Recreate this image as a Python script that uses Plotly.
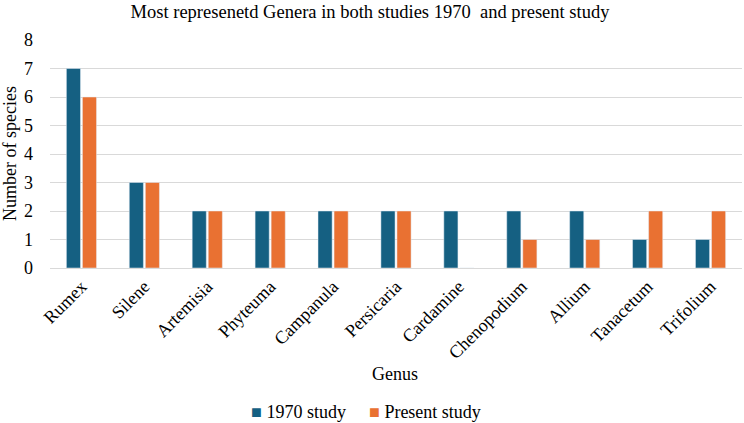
import plotly.graph_objects as go

genera = ["Rumex", "Silene", "Artemisia", "Phyteuma", "Campanula", "Persicaria",
          "Cardamine", "Chenopodium", "Allium", "Tanacetum", "Trifolium"]
study_1970 = [7, 3, 2, 2, 2, 2, 2, 2, 2, 1, 1]
present_study = [6, 3, 2, 2, 2, 2, 0, 1, 1, 2, 2]
y_ticks = [0, 1, 2, 3, 4, 5, 6, 7, 8]
series_names = ["1970 study", "Present study"]
series_colors = ["#156082", "#E97132"]

FONT = "Liberation Serif"
W, H = 744, 423
L, R, T, B = 50, 2, 40, 155
ph = H - T - B
pw = W - L - R

fig = go.Figure()
fig.add_trace(go.Bar(x=genera, y=study_1970, name=series_names[0], marker_color=series_colors[0]))
fig.add_trace(go.Bar(x=genera, y=present_study, name=series_names[1], marker_color=series_colors[1]))

fig.update_layout(
    width=W, height=H,
    margin=dict(l=L, r=R, t=T, b=B),
    paper_bgcolor="white", plot_bgcolor="white",
    font=dict(family=FONT, color="#000000", size=18),
    barmode="group", bargap=0.49, bargroupgap=0.12,
    title=dict(text="Most represenetd Genera in both studies 1970  and present study",
               x=(370 - L) / pw, xref="paper", xanchor="center",
               y=1 - 12 / H, yanchor="middle", font=dict(size=18.5, family=FONT)),
    xaxis=dict(tickangle=-45, showline=True, linecolor="#d9d9d9", linewidth=1,
               ticks="", tickfont=dict(size=18, family=FONT)),
    yaxis=dict(range=[0, 8], tickvals=y_ticks, showgrid=True, gridcolor="#d9d9d9",
               zeroline=False, ticks="", tickfont=dict(size=18, family=FONT),
               ticklabelstandoff=16),
    showlegend=False,
)
fig.add_annotation(text="Genus", xref="paper", yref="paper",
                   x=(395 - L) / pw, y=(H - B - 374) / ph, showarrow=False,
                   font=dict(size=18, family=FONT), xanchor="center", yanchor="middle")
fig.add_annotation(text="Number of species", xref="paper", yref="paper",
                   x=-(L - 10) / pw, y=0.5, textangle=-90, showarrow=False,
                   font=dict(size=18, family=FONT), xanchor="center", yanchor="middle")
legend_x = [255, 373]
for name, color, lx in zip(series_names, series_colors, legend_x):
    fig.add_annotation(text=f'<span style="color:{color}">■</span> {name}',
                       xref="paper", yref="paper",
                       x=(lx - 6 - L) / pw, y=(H - B - 412) / ph, showarrow=False,
                       font=dict(size=18, family=FONT), xanchor="left", yanchor="middle")

fig.write_html("out.html")
